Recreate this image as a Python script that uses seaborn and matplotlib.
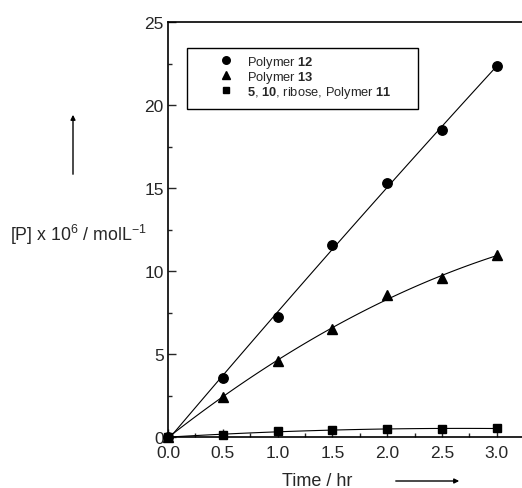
import matplotlib
matplotlib.use("Agg")
import matplotlib.pyplot as plt
import seaborn as sns
import numpy as np
from matplotlib.ticker import MultipleLocator
from matplotlib.patches import Rectangle, FancyArrowPatch

sns.set_style("ticks")
plt.rcParams['font.family'] = ['Liberation Sans', 'DejaVu Sans']
plt.rcParams['mathtext.fontset'] = 'custom'
plt.rcParams['mathtext.rm'] = 'Liberation Sans'
plt.rcParams['mathtext.bf'] = 'Liberation Sans:bold'

time = [0.0, 0.5, 1.0, 1.5, 2.0, 2.5, 3.0]
polymer12 = [0.0, 3.54, 7.21, 11.57, 15.3, 18.5, 22.35]
polymer13 = [0.0, 2.39, 4.6, 6.5, 8.55, 9.56, 10.96]
others = [0.0, 0.14, 0.34, 0.42, 0.48, 0.5, 0.52]

labels = [r"Polymer $\mathbf{12}$", r"Polymer $\mathbf{13}$",
          r"$\mathbf{5}$, $\mathbf{10}$, ribose, Polymer $\mathbf{11}$"]
series = [polymer12, polymer13, others]
markers = ['o', '^', 's']
msizes = [6.8, 7.0, 5.8]

W, H = 522, 489
fig = plt.figure(figsize=(W / 100, H / 100), dpi=100)
ax_left, ax_bottom, ax_top = 168, 438, 23
ax = fig.add_axes([ax_left / W, 1 - ax_bottom / H, 1 - ax_left / W, (ax_bottom - ax_top) / H])

for y, m, lab, ms in zip(series, markers, labels, msizes):
    sns.regplot(x=np.array(time), y=np.array(y), order=2, ci=None, scatter=False,
                ax=ax, line_kws=dict(color='black', lw=0.8))
    ax.plot(time, y, linestyle='none', marker=m, color='black', markersize=ms,
            label=lab, clip_on=False, zorder=5)

ax.set_xlim(0, 3.23)
ax.set_ylim(0, 25)
ax.xaxis.set_major_locator(MultipleLocator(0.5))
ax.xaxis.set_minor_locator(MultipleLocator(0.25))
ax.yaxis.set_major_locator(MultipleLocator(5))
ax.yaxis.set_minor_locator(MultipleLocator(2.5))
ax.xaxis.set_major_formatter(matplotlib.ticker.FormatStrFormatter('%.1f'))
ax.tick_params(which='major', direction='in', length=6, width=1, labelsize=12.5)
ax.tick_params(which='minor', direction='in', length=3, width=1)
ax.tick_params(axis='x', pad=6)
ax.tick_params(axis='y', pad=3)
for s in ['left', 'bottom', 'top']:
    ax.spines[s].set_linewidth(1.2)
    ax.spines[s].set_color('black')
ax.spines['right'].set_visible(False)

def ax_frac(px, py):
    return ((px - ax_left) / (W - ax_left), (ax_bottom - py) / (ax_bottom - ax_top))

# legend (text and markers), frame drawn separately
lx, ly = ax_frac(220, 55)
leg = ax.legend(loc='upper left', bbox_to_anchor=(lx, ly), frameon=False,
                fontsize=9.3, handletextpad=1.1, handlelength=1.0,
                borderpad=0, labelspacing=-0.08, markerscale=0.8, borderaxespad=0)
x0, y0 = ax_frac(187, 110)
x1, y1 = ax_frac(418, 49)
ax.add_patch(Rectangle((x0, y0), x1 - x0, y1 - y0, transform=ax.transAxes,
                       fill=False, edgecolor='black', lw=1.0, zorder=6, clip_on=False))

fig.text(10 / W, 1 - 235 / H, r"[P] x 10$^{6}$ / molL$^{-1}$", fontsize=12.8,
         va='center', ha='left')
fig.text(317 / W, 1 - 482 / H, "Time / hr", fontsize=13, va='center', ha='center')

fig.add_artist(FancyArrowPatch((73 / W, 1 - 178 / H), (73 / W, 1 - 113 / H),
               transform=fig.transFigure, arrowstyle='-|>', mutation_scale=7, lw=1, color='black'))
fig.add_artist(FancyArrowPatch((393 / W, 1 - 482 / H), (462 / W, 1 - 482 / H),
               transform=fig.transFigure, arrowstyle='-|>', mutation_scale=7, lw=1, color='black'))

fig.savefig("out.png", dpi=100)
